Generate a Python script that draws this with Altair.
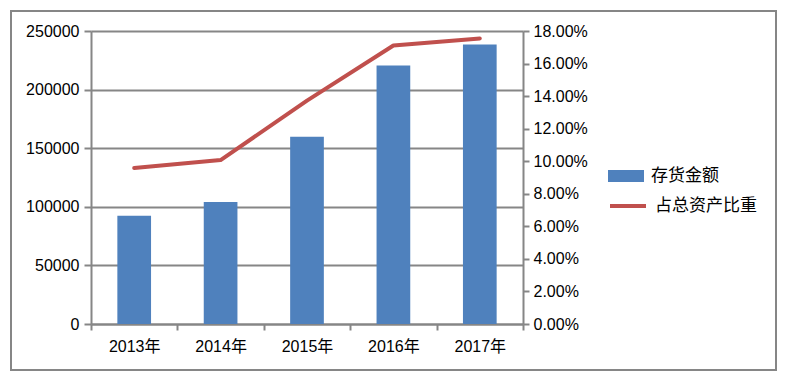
import altair as alt
import pandas as pd

years = ["2013年", "2014年", "2015年", "2016年", "2017年"]
inventory = [92300, 104000, 159800, 220500, 238500]
ratio = [0.0958, 0.1007, 0.1372, 0.1711, 0.1754]
series_bar = "存货金额"
series_line = "占总资产比重"
left_ticks = [0, 50000, 100000, 150000, 200000, 250000]
right_ticks = [0.0, 0.02, 0.04, 0.06, 0.08, 0.10, 0.12, 0.14, 0.16, 0.18]

df = pd.DataFrame({
    "year": years,
    "inventory": inventory,
    "ratio": ratio,
    "s1": [series_bar] * len(years),
    "s2": [series_line] * len(years),
})

BLUE = "#4F81BD"
RED = "#C0504D"
GRAY = "#868686"
FONT = "Liberation Sans, Noto Sans CJK SC"
CJK = "Noto Sans CJK SC"
FS = 16

base = alt.Chart(df)

x_enc = alt.X(
    "year:N", sort=years, title=None,
    scale=alt.Scale(paddingInner=0, paddingOuter=0),
    axis=alt.Axis(
        tickBand="extent", labelAngle=0, domainColor=GRAY, domainWidth=2,
        tickColor=GRAY, tickWidth=2, tickSize=6, labelPadding=8,
        labelFont=FONT, labelFontSize=FS, labelColor="black",
    ),
)

bars = base.mark_bar(width=alt.RelativeBandSize(0.39)).encode(
    x=x_enc,
    y=alt.Y(
        "inventory:Q", title=None,
        scale=alt.Scale(domain=[0, 250000], nice=False),
        axis=alt.Axis(
            values=left_ticks, format="d", grid=True, gridColor=GRAY, gridWidth=2,
            domainColor=GRAY, domainWidth=2, tickColor=GRAY, tickWidth=2, tickSize=7,
            labelPadding=5, labelFont=FONT, labelFontSize=FS, labelColor="black",
        ),
    ),
    color=alt.Color(
        "s1:N", title=None,
        scale=alt.Scale(domain=[series_bar], range=[BLUE]),
        legend=alt.Legend(
            orient="none", legendX=517, legendY=127, padding=0,
            symbolType="M-1,-0.333H1V0.333H-1Z", symbolSize=1296,
            symbolStrokeWidth=0, labelOffset=7,
            labelFont=CJK, labelFontSize=17, labelColor="black",
        ),
    ),
)

line = base.mark_line(strokeWidth=4, strokeCap="round", strokeJoin="round").encode(
    x=x_enc,
    y=alt.Y(
        "ratio:Q", title=None,
        scale=alt.Scale(domain=[0, 0.18], nice=False),
        axis=alt.Axis(
            orient="right", values=right_ticks, format=".2%", grid=False,
            domainColor=GRAY, domainWidth=2, tickColor=GRAY, tickWidth=2, tickSize=6,
            labelPadding=4, labelFont=FONT, labelFontSize=FS, labelColor="black",
        ),
    ),
    stroke=alt.Stroke(
        "s2:N", title=None,
        scale=alt.Scale(domain=[series_line], range=[RED]),
        legend=alt.Legend(
            orient="none", legendX=517, legendY=155, padding=0,
            symbolType="stroke", symbolSize=1296, symbolStrokeWidth=4,
            labelOffset=7, labelFont=CJK, labelFontSize=17, labelColor="black",
        ),
    ),
)

frame = alt.Chart(alt.Data(values=[{"k": 1}])).mark_rect(
    fillOpacity=0, stroke=GRAY, strokeWidth=2
).encode(
    x=alt.value(-80), x2=alt.value(685), y=alt.value(-20), y2=alt.value(339)
)

chart = alt.layer(frame, bars, line).resolve_scale(
    y="independent", color="independent"
).properties(
    width=432, height=293,
    autosize=alt.AutoSizeParams(type="none"),
    padding={"left": 83, "top": 23, "right": 265, "bottom": 48},
).configure_view(stroke=None)

chart.save("out.html", embed_options={"renderer": "svg", "actions": False})
